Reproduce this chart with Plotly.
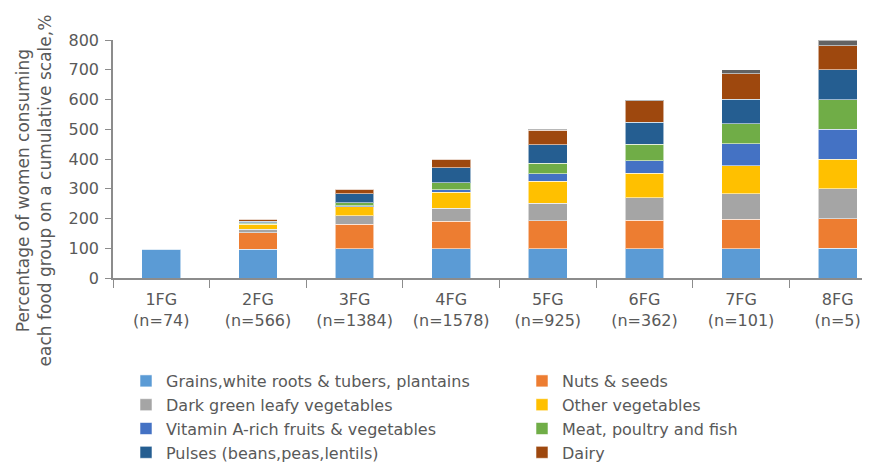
import plotly.graph_objects as go

categories = ["1FG<br>(n=74)", "2FG<br>(n=566)", "3FG<br>(n=1384)", "4FG<br>(n=1578)",
              "5FG<br>(n=925)", "6FG<br>(n=362)", "7FG<br>(n=101)", "8FG<br>(n=5)"]

grains = [97, 96, 98, 98, 98, 99, 99, 100]
nuts = [3, 56, 82, 92, 95, 95, 98, 100]
dark_green = [0, 12, 29, 44, 58, 76, 86, 100]
other_veg = [0, 16, 30, 55, 75, 82, 95, 100]
vita = [0, 2, 4, 8, 25, 42, 73, 100]
meat = [0, 3, 10, 24, 34, 56, 68, 100]
pulses = [0, 6, 31, 49, 63, 73, 82, 100]
dairy = [0, 6, 15, 29, 49, 72, 86, 80]
eggs = [0, 3, 1, 1, 3, 5, 13, 20]

y_title = "Percentage of women consuming<br>each food group on a cumulative scale,%"

# (name, values, colour, legend id or None)
series = [
    ("Grains,white roots & tubers, plantains", grains, "#5B9BD5", "legend"),
    ("Nuts & seeds", nuts, "#ED7D31", "legend2"),
    ("Dark green leafy vegetables", dark_green, "#A5A5A5", "legend"),
    ("Other vegetables", other_veg, "#FFC000", "legend2"),
    ("Vitamin A-rich fruits & vegetables", vita, "#4472C4", "legend"),
    ("Meat, poultry and fish", meat, "#70AD47", "legend2"),
    ("Pulses (beans,peas,lentils)", pulses, "#255E91", "legend"),
    ("Dairy", dairy, "#9E480E", "legend2"),
    ("Eggs", eggs, "#636363", None),
]

FONT = "DejaVu Sans, Liberation Sans, sans-serif"
TXT = "#595959"
AX = "#8c8c8c"

fig = go.Figure()
for name, vals, color, leg in series:
    fig.add_trace(go.Bar(
        x=categories, y=vals, name=name,
        showlegend=leg is not None, legend=leg or "legend",
        marker=dict(color=color, line=dict(color="rgba(255,255,255,0.55)", width=1)),
    ))

# the page body has an 8px default margin; offsets below compensate for it
W, H = 878, 454
L, T, B = 105, 32, 184
plot_w = W - L
plot_h = H - T - B

leg_common = dict(orientation="v", yanchor="top", xanchor="left",
                  traceorder="normal", font=dict(size=16, color=TXT, family=FONT),
                  itemwidth=30, bgcolor="rgba(0,0,0,0)")
leg_y = (plot_h + T - 356 + T - T) / plot_h  # placeholder, recomputed below
leg_y = (270 - 356) / plot_h

fig.update_layout(
    barmode="stack",
    bargap=0.6,
    width=W, height=H,
    margin=dict(l=L, r=0, t=T, b=B, autoexpand=False),
    plot_bgcolor="white", paper_bgcolor="white",
    font=dict(family=FONT, size=16, color=TXT),
    legend=dict(x=(118 - L) / plot_w, y=leg_y, **leg_common),
    legend2=dict(x=(514 - L) / plot_w, y=leg_y, **leg_common),
)
fig.update_xaxes(
    type="category", range=[-0.5, 7.5],
    showline=True, linecolor=AX, linewidth=1.5,
    ticks="outside", tickson="boundaries", ticklen=8, tickcolor=AX,
    ticklabelstandoff=6,
    tickfont=dict(size=16, color=TXT, family=FONT),
)
fig.update_yaxes(
    range=[0, 800], dtick=100, showgrid=False, zeroline=False,
    showline=True, linecolor=AX, linewidth=1.5,
    ticks="outside", ticklen=6, tickcolor=AX, ticklabelstandoff=3,
    tickfont=dict(size=16, color=TXT, family=FONT),
)
fig.add_annotation(
    text=y_title, textangle=-90, showarrow=False,
    xref="paper", yref="paper", x=(25.5 - L) / plot_w, xanchor="center",
    y=(270 - 183) / plot_h, yanchor="middle",
    font=dict(size=17, color=TXT, family=FONT),
)

fig.write_html("out.html")
